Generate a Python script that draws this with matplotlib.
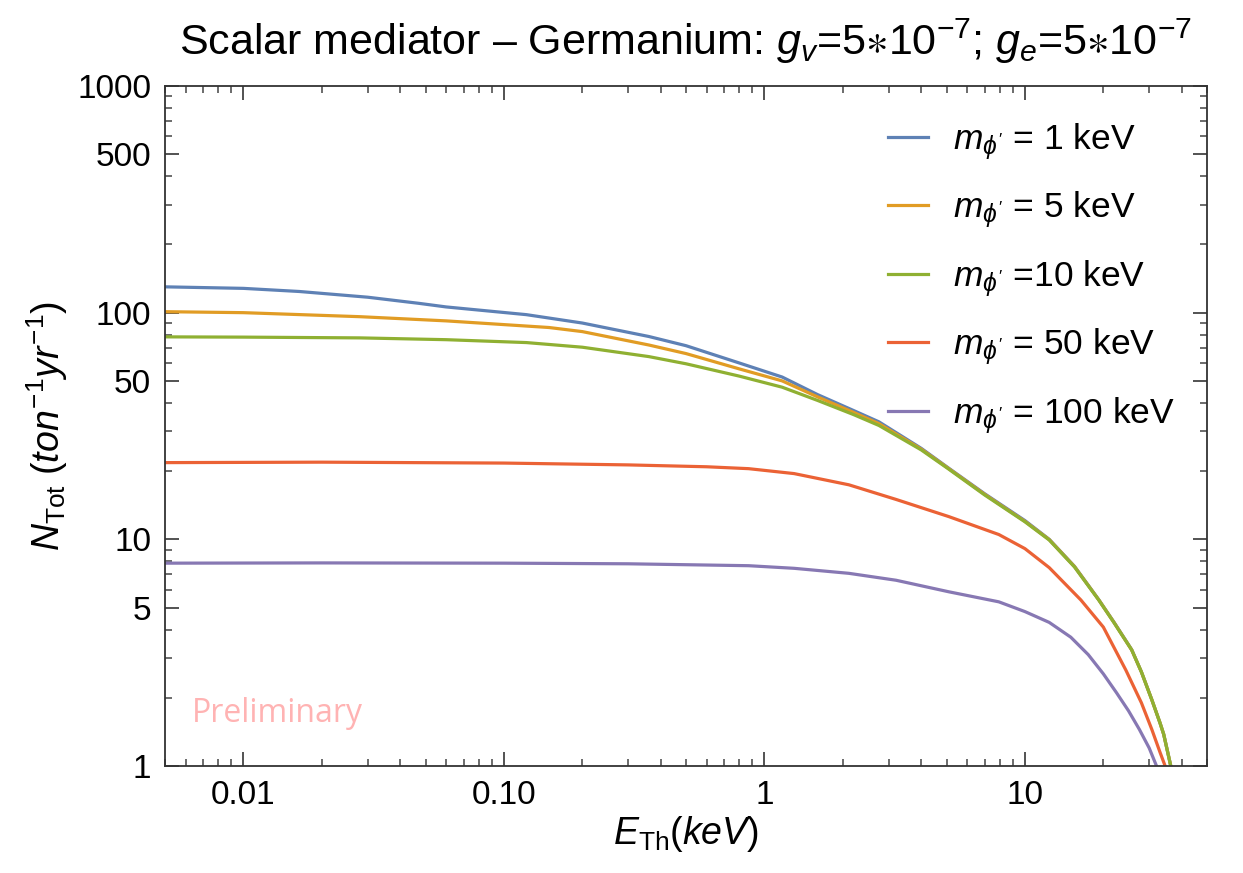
import matplotlib
matplotlib.use("Agg")
import matplotlib.pyplot as plt
from matplotlib.ticker import FixedLocator, FixedFormatter, LogLocator, NullFormatter

plt.rcParams['font.family'] = ['Liberation Sans', 'DejaVu Sans']
plt.rcParams['mathtext.fontset'] = 'custom'
plt.rcParams['mathtext.rm'] = 'Liberation Sans'
plt.rcParams['mathtext.it'] = 'Liberation Sans:italic'
plt.rcParams['mathtext.fallback'] = 'stixsans'

# data (E_Th in keV, N_Tot in ton^-1 yr^-1)
e_1kev = [0.005, 0.01, 0.0164, 0.03, 0.047, 0.06, 0.122, 0.2, 0.36, 0.5, 0.8, 1.17,
          1.6, 2.2, 2.75, 4.0, 5.1, 7.0, 10.0, 12.4, 15.5, 19.2, 22.0, 25.7,
          28.0, 30.7, 33.0, 34.1, 36.3, 37.0]
n_1kev = [130, 128, 124, 117, 110, 106, 98, 90, 78.5, 71.5, 60, 52,
          43.5, 37, 33, 25.2, 20.6, 15.9, 12.1, 10.0, 7.6, 5.42, 4.3, 3.26,
          2.6, 1.96, 1.55, 1.38, 1.0, 0.85]

e_5kev = [0.005, 0.01, 0.028, 0.06, 0.149, 0.2, 0.36, 0.5, 0.8, 1.17,
          1.6, 2.2, 2.75, 4.0, 5.1, 7.0, 10.0, 12.4, 15.5, 19.2, 22.0, 25.7,
          28.0, 30.7, 33.0, 34.1, 36.3, 37.0]
n_5kev = [101, 100, 96, 92, 86, 82.5, 72, 66, 56.5, 50,
          42.5, 36.3, 32.4, 25, 20.5, 15.8, 12.0, 9.97, 7.58, 5.41, 4.29, 3.25,
          2.6, 1.96, 1.55, 1.38, 1.0, 0.85]

e_10kev = [0.005, 0.01, 0.028, 0.06, 0.122, 0.2, 0.36, 0.5, 0.8, 1.17,
           1.6, 2.2, 2.75, 4.0, 5.1, 7.0, 10.0, 12.4, 15.5, 19.2, 22.0, 25.7,
           28.0, 30.7, 33.0, 34.1, 36.3, 37.0]
n_10kev = [78.2, 78, 77.4, 76, 73.8, 70.4, 64, 59.5, 52.5, 46.9,
           41, 35.5, 31.8, 24.8, 20.4, 15.7, 11.95, 9.93, 7.55, 5.4, 4.28, 3.25,
           2.6, 1.96, 1.55, 1.38, 1.0, 0.85]

e_50kev = [0.005, 0.02, 0.1, 0.3, 0.6, 0.87, 1.3, 2.11, 3.2, 5.1, 7.94,
           10.0, 12.4, 16.4, 20.0, 24.4, 28.0, 30.7, 33.0, 35.0, 36.0]
n_50kev = [21.8, 21.9, 21.7, 21.3, 20.9, 20.5, 19.5, 17.4, 15.0, 12.6, 10.5,
           9.1, 7.5, 5.4, 4.1, 2.65, 1.9, 1.45, 1.15, 0.96, 0.8]

e_100kev = [0.005, 0.02, 0.1, 0.3, 0.87, 1.3, 2.11, 3.2, 5.1, 7.94,
            10.0, 12.4, 15.0, 17.5, 20.0, 22.5, 25.0, 27.5, 30.0, 32.0, 32.8]
n_100kev = [7.85, 7.87, 7.85, 7.8, 7.65, 7.45, 7.08, 6.6, 5.87, 5.3,
            4.8, 4.3, 3.7, 3.1, 2.55, 2.1, 1.75, 1.45, 1.2, 1.0, 0.88]

labels = [r"$m_{\phi'}$ = 1 keV", r"$m_{\phi'}$ = 5 keV", r"$m_{\phi'}$ =10 keV",
          r"$m_{\phi'}$ = 50 keV", r"$m_{\phi'}$ = 100 keV"]
colors = ['#5E81B5', '#E19C24', '#8FB032', '#EB6235', '#8778B3']

fig = plt.figure(figsize=(12.43, 8.73), dpi=100)
ax = fig.add_axes([165 / 1243, 1 - 766 / 873, 1042 / 1243, 680 / 873])

series = [(e_1kev, n_1kev), (e_5kev, n_5kev), (e_10kev, n_10kev),
          (e_50kev, n_50kev), (e_100kev, n_100kev)]
for (e, n), lab, c in zip(series, labels, colors):
    ax.plot(e, n, color=c, lw=2.3, label=lab, solid_joinstyle='round')

ax.set_xscale('log')
ax.set_yscale('log')
ax.set_xlim(0.005, 50)
ax.set_ylim(1, 1000)

ax.xaxis.set_major_locator(FixedLocator([0.01, 0.1, 1, 10]))
ax.xaxis.set_major_formatter(FixedFormatter(['0.01', '0.10', '1', '10']))
ax.xaxis.set_minor_locator(LogLocator(base=10, subs=range(2, 10)))
ax.xaxis.set_minor_formatter(NullFormatter())

yt = [1, 5, 10, 50, 100, 500, 1000]
ax.yaxis.set_major_locator(FixedLocator(yt))
ax.yaxis.set_major_formatter(FixedFormatter([str(v) for v in yt]))
ax.yaxis.set_minor_locator(FixedLocator([2, 3, 4, 6, 7, 8, 9, 20, 30, 40, 60, 70, 80, 90,
                                         200, 300, 400, 600, 700, 800, 900]))
ax.yaxis.set_minor_formatter(NullFormatter())

ax.tick_params(which='both', direction='in', top=True, right=True, color='#444444',
               labelsize=24, pad=10)
ax.tick_params(which='major', length=10, width=1.3)
ax.tick_params(which='minor', length=5, width=1.1)
for s in ax.spines.values():
    s.set_color('#333333')
    s.set_linewidth(1.3)

ax.set_xlabel(r"$E_{\mathrm{Th}}(keV)$", fontsize=27, labelpad=2)
ax.set_ylabel(r"$N_{\mathrm{Tot}}$ $(ton^{-1} yr^{-1})$", fontsize=27, labelpad=5)
ax.set_title(r"Scalar mediator – Germanium: $g_v$=5$\ast$10$^{-7}$; $g_e$=5$\ast$10$^{-7}$",
             fontsize=31, pad=22)

ax.text(0.026, 0.065, "Preliminary", transform=ax.transAxes, color='#FFB3B3',
        fontsize=23, family=['Open Sans', 'DejaVu Sans'])

ax.legend(loc='upper right', bbox_to_anchor=(1.0, 0.995), frameon=False, fontsize=25.5,
          handlelength=1.15, handletextpad=0.7, labelspacing=0.78)

fig.savefig('out.png', dpi=100)
